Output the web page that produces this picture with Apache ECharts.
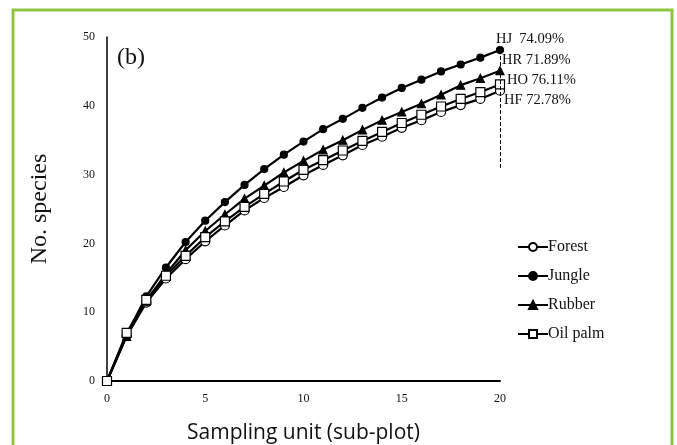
<!DOCTYPE html>
<html><head><meta charset="utf-8">
<script src="https://cdn.jsdelivr.net/npm/echarts@6/dist/echarts.min.js"></script>
<style>html,body{margin:0;padding:0;background:#fff}#c{width:677px;height:445px}</style>
</head><body><div id="c"></div>
<script>
const xUnits = [0,1,2,3,4,5,6,7,8,9,10,11,12,13,14,15,16,17,18,19,20];
const forest  = [0,6.6,11.4,14.9,17.7,20.3,22.6,24.8,26.6,28.2,29.9,31.4,32.8,34.3,35.5,36.8,37.9,39.1,40.1,41.0,42.2];
const jungle  = [0,6.8,12.3,16.5,20.2,23.3,26.0,28.5,30.8,32.9,34.8,36.6,38.1,39.7,41.2,42.6,43.8,45.0,46.0,47.0,48.1];
const rubber  = [0,6.5,11.6,15.6,19.0,21.8,24.2,26.5,28.4,30.3,32.0,33.6,35.0,36.5,37.9,39.1,40.3,41.6,43.0,44.0,45.1];
const oilPalm = [0,7.0,11.8,15.3,18.2,20.9,23.2,25.3,27.2,29.0,30.7,32.1,33.5,34.9,36.2,37.5,38.7,39.9,41.0,42.0,43.1];
const endNotes = ['HJ  74.09%','HR 71.89%','HO 76.11%','HF 72.78%'];
const dashEnd = 31;

const pair = arr => arr.map((v,i)=>[xUnits[i], v]);
const serif = '"Liberation Serif", "Times New Roman", serif';
function mk(name, data, symbol, filled, size){
  return {
    name, type:'line', data: pair(data), symbol, symbolSize:size,
    lineStyle:{color:'#000', width:2.2},
    itemStyle:{color: filled ? '#000' : '#fff', borderColor:'#000', borderWidth:1.2},
    emphasis:{disabled:true}, animation:false
  };
}
const chart = echarts.init(document.getElementById('c'));
const jungleSeries = mk('Jungle', jungle, 'circle', true, 7);
jungleSeries.markLine = {
  silent:true, symbol:'none', label:{show:false},
  lineStyle:{color:'#000', type:'dashed', width:1},
  data:[[{coord:[20, jungle[20]]},{coord:[20, dashEnd]}]]
};
chart.setOption({
  animation:false,
  grid:{left:107, right:177, top:37, bottom:64, containLabel:false, outerBoundsMode:'none'},
  xAxis:{type:'value', min:0, max:20, interval:5,
    name:'Sampling unit (sub-plot)', nameLocation:'middle', nameGap:42,
    nameTextStyle:{fontFamily:'"Open Sans", sans-serif', fontSize:21, color:'#111'},
    axisLine:{lineStyle:{color:'#000', width:2}}, axisTick:{show:false}, splitLine:{show:false},
    axisLabel:{fontFamily:serif, fontSize:12, color:'#111', margin:12}},
  yAxis:{type:'value', min:0, max:50, interval:10,
    name:'No. species', nameLocation:'middle', nameGap:55,
    nameTextStyle:{fontFamily:serif, fontSize:24, color:'#111'},
    axisLine:{show:true, lineStyle:{color:'#000', width:1.5}}, axisTick:{show:false}, splitLine:{show:false},
    axisLabel:{fontFamily:serif, fontSize:12, color:'#111', margin:12}},
  legend:{orient:'vertical', left:512, top:234, itemGap:13, itemWidth:30, itemHeight:10,
    textStyle:{fontFamily:serif, fontSize:16, color:'#111', padding:[0,0,0,-5]},
    data:['Forest','Jungle','Rubber','Oil palm']},
  series:[
    mk('Forest', forest, 'circle', false, 9),
    jungleSeries,
    mk('Rubber', rubber, 'triangle', true, 8),
    mk('Oil palm', oilPalm, 'rect', false, 9)
  ],
  graphic:[
    {type:'rect', shape:{x:13, y:10, width:659, height:470}, style:{fill:'none', stroke:'#8dc63f', lineWidth:3}},
    {type:'text', left:117, top:46, style:{text:'(b)', font:'24px '+serif, fill:'#111'}},
    {type:'text', left:496, top:32, style:{text:endNotes[0], font:'14.5px '+serif, fill:'#111'}},
    {type:'text', left:502, top:53, style:{text:endNotes[1], font:'14.5px '+serif, fill:'#111'}},
    {type:'text', left:507, top:73, style:{text:endNotes[2], font:'14.5px '+serif, fill:'#111'}},
    {type:'text', left:504, top:93, style:{text:endNotes[3], font:'14.5px '+serif, fill:'#111'}}
  ]
});
</script></body></html>
